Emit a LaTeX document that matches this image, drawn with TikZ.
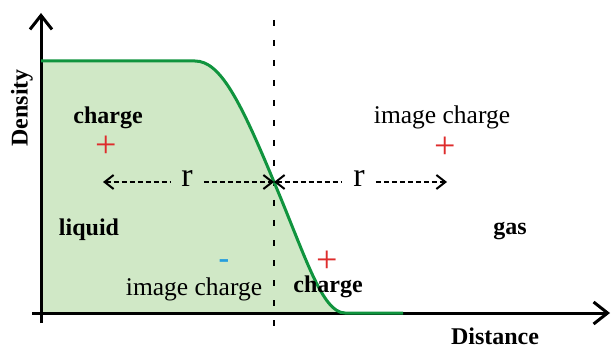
\documentclass[tikz,border=0pt]{standalone}
\usepackage{fontspec}
\setmainfont{Liberation Serif}
\usetikzlibrary{arrows.meta}
\definecolor{liqFill}{RGB}{208,232,198}
\definecolor{liqLine}{RGB}{16,148,62}
\definecolor{chRed}{RGB}{222,44,44}
\definecolor{chBlue}{RGB}{38,158,222}

\begin{document}
\begin{tikzpicture}[x=1pt, y=1pt,
    axis/.style={line width=3pt, -{Straight Barb[length=14pt,width=22pt]}},
    dasharrow/.style={line width=2pt, dash pattern=on 5pt off 3pt},
    boldlbl/.style={font=\fontsize{24}{28}\selectfont\bfseries, inner sep=0pt},
    plainlbl/.style={font=\fontsize{25.5}{30}\selectfont, inner sep=0pt},
    plus/.style={chRed, font=\fontsize{38}{42}\selectfont, inner sep=0pt, text depth=0pt}]
    \useasboundingbox (0,0) rectangle (612,348);

    % liquid side under the density profile
    \fill[liqFill] (41,287) -- (195,287) .. controls (220,287) and (240,248) .. (274,166)
        .. controls (305,93) and (322,35) .. (345,35) -- (41,35) -- cycle;

    % axes
    \draw[axis] (32,35) -- (610,35);
    \draw[axis] (41,25) -- (41,335);

    % interface
    \draw[line width=2.5pt, dash pattern=on 6pt off 14pt] (274,328) -- (274,18);

    % density profile
    \draw[liqLine, line width=3pt] (41,287) -- (195,287)
        .. controls (220,287) and (240,248) .. (274,166)
        .. controls (305,93) and (322,35) .. (345,35) -- (403,35);

    % labels
    \node[boldlbl, rotate=90] (dens) at (22,240) {Density};
    \node[boldlbl] (dist) at (495,12) {Distance};
    \node[boldlbl] (liq) at (89,118) {liquid};
    \node[boldlbl] (gas) at (510,117) {gas};

    % charge in the liquid and its image
    \node[boldlbl] (chL) at (108,230) {charge};
    \node[plus] (qL) at (106,201) {+};
    \node[plainlbl] (imL) at (194,59) {image charge};
    \node[chBlue, font=\fontsize{32}{36}\selectfont\bfseries, inner sep=0pt] (qIm) at (224,84) {-};

    % image of the liquid charge in the gas
    \node[plainlbl] (imG) at (442,231) {image charge};
    \node[plus] (qG) at (445,200) {+};

    % charge near the interface
    \node[boldlbl] (chI) at (328,61) {charge};
    \node[plus] (qI) at (327,86) {+};

    % distances r
    \coordinate (xl) at (103,166);
    \coordinate (xc) at (274,166);
    \coordinate (xr) at (447,166);
    \node[font=\fontsize{34}{38}\selectfont, inner xsep=11pt, inner ysep=0pt] (rL) at (187,170) {r};
    \node[font=\fontsize{34}{38}\selectfont, inner xsep=11pt, inner ysep=0pt] (rR) at (359,170) {r};
    \draw[dasharrow, {Straight Barb[length=9pt,width=14pt]}-] (xl) -- (rL.west |- xl);
    \draw[dasharrow, -{Straight Barb[length=9pt,width=14pt]}] (rL.east |- xc) -- (xc);
    \draw[dasharrow, {Straight Barb[length=9pt,width=14pt]}-] (xc) -- (rR.west |- xc);
    \draw[dasharrow, -{Straight Barb[length=9pt,width=14pt]}] (rR.east |- xr) -- (xr);
\end{tikzpicture}
\end{document}
